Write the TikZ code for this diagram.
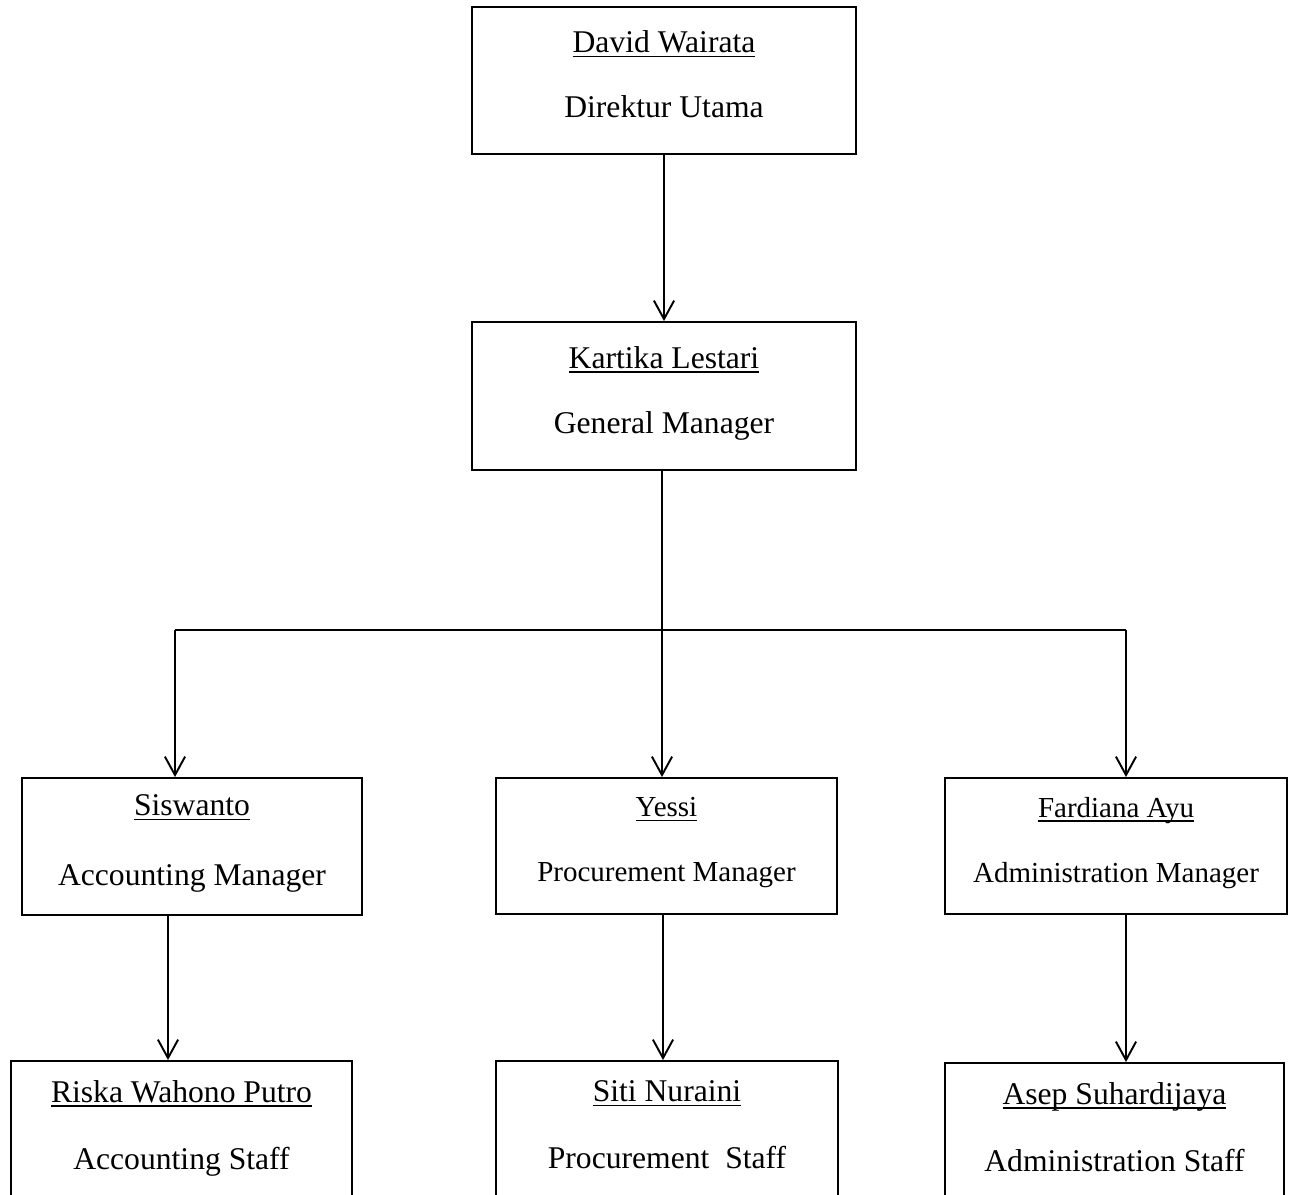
\documentclass[tikz,border=0pt]{standalone}
\usepackage{fontspec}
\setmainfont{Liberation Serif}
\usetikzlibrary{arrows.meta,positioning,calc}
\newcommand{\uname}[1]{\setbox0\hbox{#1}\rlap{\rule[-2.4pt]{\wd0}{0.8pt}}\box0}

\begin{document}
\begin{tikzpicture}[
    x=0.02cm, y=-0.02cm,
    orgbox/.style={draw=black, line width=1.1pt, fill=white, align=center, inner sep=0pt, text depth=7pt, font=\fontsize{18}{21}\selectfont},
    smallbox/.style={orgbox, font=\fontsize{16.5}{20}\selectfont},
    orgarrow/.style={draw=black, line width=1.1pt, -{Straight Barb[length=10.5pt,width=11.5pt]}}
]

  % Fundo / Recorte
  \useasboundingbox (0,0) rectangle (1291,1194);
  \clip (0,0) rectangle (1291,1194);

  % =========================================================================
  % DIREKSI
  % =========================================================================
  \node[orgbox, minimum width=7.68cm, minimum height=2.94cm] (b_dir) at (664, 80.5) {
    \uname{David Wairata}\\[16pt]
    Direktur Utama
  };

  \node[orgbox, minimum width=7.68cm, minimum height=2.96cm] (b_gm) at (664, 396) {
    \uname{Kartika Lestari}\\[16pt]
    General Manager
  };

  % =========================================================================
  % MANAGER
  % =========================================================================
  \node[orgbox, minimum width=6.8cm, minimum height=2.74cm] (b_acc) at (192, 846.5) {
    \uname{Siswanto}\\[19pt]
    Accounting Manager
  };

  \node[smallbox, minimum width=6.82cm, minimum height=2.72cm] (b_proc) at (666.5, 846) {
    \uname{Yessi}\\[17pt]
    Procurement Manager
  };

  \node[smallbox, minimum width=6.84cm, minimum height=2.72cm] (b_adm) at (1116, 846) {
    \uname{Fardiana Ayu}\\[17pt]
    Administration Manager
  };

  % =========================================================================
  % STAFF
  % =========================================================================
  \node[orgbox, minimum width=6.82cm, minimum height=2.8cm] (s_acc) at (181.5, 1131) {
    \uname{Riska Wahono Putro}\\[17pt]
    Accounting Staff
  };

  \node[orgbox, minimum width=6.84cm, minimum height=2.8cm] (s_proc) at (667, 1131) {
    \uname{Siti Nuraini}\\[17pt]
    Procurement\ \ Staff
  };

  \node[orgbox, minimum width=6.78cm, minimum height=2.8cm] (s_adm) at (1114.5, 1133) {
    \uname{Asep Suhardijaya}\\[17pt]
    Administration Staff
  };

  % =========================================================================
  % GARIS
  % =========================================================================
  \coordinate (busL) at (175, 630);
  \coordinate (busR) at (1126, 630);

  \draw[orgarrow] (b_dir) -- (b_gm);
  \draw[orgarrow] ([xshift=-0.04cm]b_gm.south) -- ([xshift=-0.04cm]b_gm.south |- b_proc.north);
  \draw[line width=1.1pt] (busL) -- (busR);
  \draw[orgarrow] (busL) -- (busL |- b_acc.north);
  \draw[orgarrow] (busR) -- (busR |- b_adm.north);

  \draw[orgarrow] ([xshift=-0.48cm]b_acc.south) -- ([xshift=-0.48cm]b_acc.south |- s_acc.north);
  \draw[orgarrow] ([xshift=-0.07cm]b_proc.south) -- ([xshift=-0.07cm]b_proc.south |- s_proc.north);
  \draw[orgarrow] ([xshift=0.2cm]b_adm.south) -- ([xshift=0.2cm]b_adm.south |- s_adm.north);

\end{tikzpicture}
\end{document}
